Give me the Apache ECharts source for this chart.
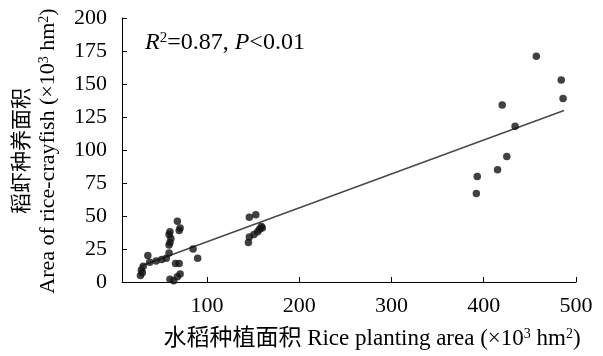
<!DOCTYPE html>
<html>
<head>
<meta charset="utf-8">
<script src="https://cdn.jsdelivr.net/npm/echarts@6/dist/echarts.min.js"></script>
<style>
  html, body { margin: 0; padding: 0; background: #fff; }
  #chart { width: 603px; height: 356px; }
</style>
</head>
<body>
<div id="chart"></div>
<script>
// rice planting area (x) and rice-crayfish area (y), ×10^3 hm^2
const riceArea = [
  28, 29, 31, 30, 36, 38, 45, 51, 56, 59, 59, 60, 61, 59, 60, 68, 71, 70, 66, 70, 60, 64, 68, 71, 85, 90,
  145, 146, 146, 153, 151, 155, 157, 159, 160,
  392, 393, 415, 425, 420, 434, 457, 484, 486
];
const crayfishArea = [
  5, 9, 12, 7, 20, 15, 16, 17, 18, 22, 28, 30, 33, 36, 38, 46, 41, 39, 14, 14, 2, 1, 4, 6, 25, 18,
  30, 34, 49, 51, 36, 38, 40, 42, 41,
  67, 80, 85, 95, 134, 118, 171, 153, 139
];

// fitted line at its two ends
const trendX = [28, 487];
const trendY = [12, 130];

const xTicks = [100, 200, 300, 400, 500];

const serif = "'Liberation Serif', 'Times New Roman', 'Noto Sans CJK SC', serif";

const points = riceArea.map((x, i) => [x, crayfishArea[i]]);
const trend = trendX.map((x, i) => [x, trendY[i]]);

const chart = echarts.init(document.getElementById("chart"));

const sup = { fontSize: 14, fontFamily: serif, verticalAlign: "top", fill: "#000" };

chart.setOption({
  animation: false,
  backgroundColor: "#fff",
  grid: { left: 122, right: 27, top: 18, bottom: 74 },
  xAxis: {
    type: "value",
    min: 8,
    max: 500,
    axisLine: { lineStyle: { color: "#000", width: 1 } },
    axisTick: { inside: true, length: 5, customValues: xTicks, lineStyle: { color: "#000" } },
    axisLabel: { customValues: xTicks, fontSize: 22, fontFamily: serif, color: "#000", margin: 13 },
    splitLine: { show: false }
  },
  yAxis: {
    type: "value",
    min: 0,
    max: 200,
    interval: 25,
    axisLine: { show: true, lineStyle: { color: "#000", width: 1 } },
    axisTick: { show: true, inside: true, length: 5, lineStyle: { color: "#000" } },
    axisLabel: { fontSize: 22, fontFamily: serif, color: "#000", margin: 15 },
    splitLine: { show: false }
  },
  series: [
    {
      type: "line",
      data: trend,
      showSymbol: false,
      lineStyle: { color: "#4a4a4a", width: 1.6 },
      z: 1
    },
    {
      type: "scatter",
      data: points,
      symbolSize: 7.5,
      itemStyle: { color: "#111" },
      z: 2
    }
  ],
  graphic: [
    {
      type: "text",
      x: 145,
      y: 43,
      style: {
        text: "{i|R}{s|2}{n|=0.87, }{i|P}{n|<0.01}",
        verticalAlign: "middle",
        rich: {
          i: { fontSize: 24, fontFamily: serif, fontStyle: "italic", fill: "#000" },
          n: { fontSize: 24, fontFamily: serif, fill: "#000" },
          s: { fontSize: 15, fontFamily: serif, verticalAlign: "top", fill: "#000" }
        }
      }
    },
    {
      type: "text",
      x: 372,
      y: 339,
      style: {
        text: "{n|水稻种植面积 Rice planting area (×10}{s|3}{n| hm}{s|2}{n|)}",
        align: "center",
        verticalAlign: "middle",
        rich: { n: { fontSize: 23, fontFamily: serif, fill: "#000" }, s: sup }
      }
    },
    {
      type: "text",
      x: 22,
      y: 151,
      rotation: Math.PI / 2,
      style: {
        text: "稻虾种养面积",
        align: "center",
        verticalAlign: "middle",
        fontSize: 21,
        fontFamily: serif,
        fill: "#000"
      }
    },
    {
      type: "text",
      x: 48,
      y: 151,
      rotation: Math.PI / 2,
      style: {
        text: "{n|Area of rice-crayfish (×10}{s|3}{n| hm}{s|2}{n|)}",
        align: "center",
        verticalAlign: "middle",
        rich: { n: { fontSize: 22, fontFamily: serif, fill: "#000" }, s: sup }
      }
    }
  ]
});
</script>
</body>
</html>
